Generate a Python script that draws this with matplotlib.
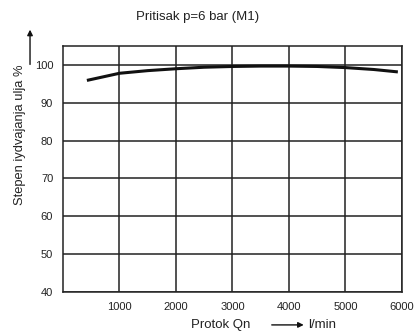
import matplotlib
matplotlib.use('Agg')
import matplotlib.pyplot as plt

plt.rcParams['font.family'] = ['Liberation Sans', 'DejaVu Sans']

# ── Data ──────────────────────────────────────────────────────────────────────
flow = [450, 1000, 1500, 2000, 2500, 3000, 3500, 4000, 4500, 5000, 5500, 5900]
efficiency = [96.0, 97.8, 98.5, 99.0, 99.4, 99.6, 99.7, 99.7, 99.6, 99.3, 98.8, 98.2]
x_ticks = [1000, 2000, 3000, 4000, 5000, 6000]
y_ticks = [40, 50, 60, 70, 80, 90, 100]

fig = plt.figure(figsize=(4.17, 3.36), dpi=100)
ax = fig.add_axes([0.151, 0.131, 0.813, 0.732])

ax.plot(flow, efficiency, color='#111111', linewidth=2.2, zorder=3)

ax.set_xlim(0, 6000)
ax.set_ylim(40, 105)
ax.set_xticks(x_ticks)
ax.set_yticks(y_ticks)
ax.tick_params(length=0, labelsize=8, colors='#222222', pad=7)
ax.grid(True, color='#222222', linewidth=1.1)
for s in ax.spines.values():
    s.set_color('#222222')
    s.set_linewidth(1.1)

fig.text(0.473, 0.948, "Pritisak p=6 bar (M1)", fontsize=9.5, ha='center', va='center', color='#222222')
fig.text(0.048, 0.6, "Stepen iydvajanja ulja %", fontsize=9.3, rotation=90,
         ha='center', va='center', color='#222222')
fig.add_artist(matplotlib.patches.FancyArrowPatch((0.072, 0.8), (0.072, 0.92),
               transform=fig.transFigure, arrowstyle='-|>', mutation_scale=8,
               color='#111111', linewidth=1.0))

fig.text(0.53, 0.033, "Protok Qn", fontsize=9.5, ha='center', va='center', color='#222222')
fig.add_artist(matplotlib.patches.FancyArrowPatch((0.645, 0.033), (0.735, 0.033),
               transform=fig.transFigure, arrowstyle='-|>', mutation_scale=8,
               color='#111111', linewidth=1.0))
fig.text(0.738, 0.033, "l/min", fontsize=9.5, ha='left', va='center', color='#222222')

fig.savefig("out.png", dpi=100)
